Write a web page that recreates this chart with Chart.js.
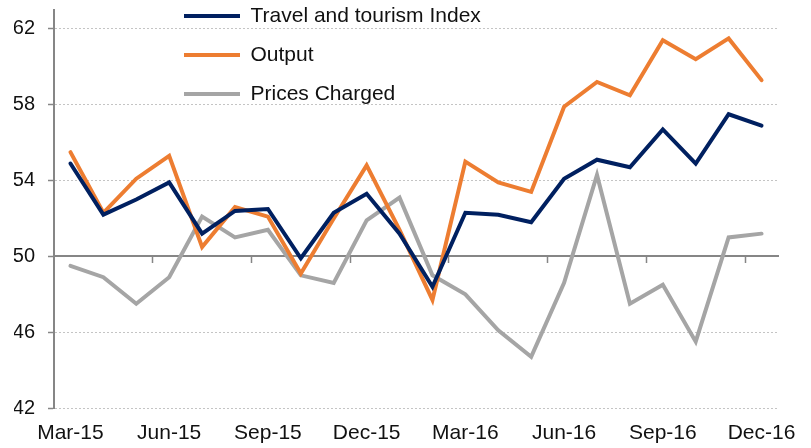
<!DOCTYPE html>
<html lang="en">
<head>
    <meta charset="UTF-8">
    <title>Travel and tourism Index</title>
    <script src="https://cdn.jsdelivr.net/npm/chart.js"></script>
    <style>
        body { margin: 0; background: #fff; }
    </style>
</head>
<body>
    <canvas id="tourismChart" width="811" height="448"></canvas>

    <script>
        const labels = ['Mar-15', 'Apr-15', 'May-15', 'Jun-15', 'Jul-15', 'Aug-15', 'Sep-15', 'Oct-15',
            'Nov-15', 'Dec-15', 'Jan-16', 'Feb-16', 'Mar-16', 'Apr-16', 'May-16', 'Jun-16',
            'Jul-16', 'Aug-16', 'Sep-16', 'Oct-16', 'Nov-16', 'Dec-16'];
        const travelIndex = [54.9, 52.2, 53.0, 53.9, 51.2, 52.4, 52.5, 49.9, 52.3, 53.3, 51.2, 48.4,
            52.3, 52.2, 51.8, 54.1, 55.1, 54.7, 56.7, 54.9, 57.5, 56.9];
        const output = [55.5, 52.3, 54.1, 55.3, 50.5, 52.6, 52.1, 49.1, 52.0, 54.8, 51.4, 47.7,
            55.0, 53.9, 53.4, 57.9, 59.2, 58.5, 61.4, 60.4, 61.5, 59.3];
        const pricesCharged = [49.5, 48.9, 47.5, 48.9, 52.1, 51.0, 51.4, 49.0, 48.6, 51.9, 53.1, 49.0,
            48.0, 46.1, 44.7, 48.6, 54.3, 47.5, 48.5, 45.5, 51.0, 51.2];
        const yTicks = [42, 46, 50, 54, 58, 62];

        Chart.defaults.font.family = 'Arial, "Liberation Sans", sans-serif';
        Chart.defaults.color = '#111';

        // move the legend onto the plot, above the lines
        const legendSpot = {
            id: 'legendSpot',
            afterLayout(chart) {
                const lg = chart.legend;
                lg.left = 166;
                lg.right = 600;
                lg.top = -12.5;
                lg.bottom = 200;
            }
        };

        const ctx = document.getElementById('tourismChart').getContext('2d');
        new Chart(ctx, {
            type: 'line',
            data: {
                labels: labels,
                datasets: [{
                    label: 'Travel and tourism Index',
                    data: travelIndex,
                    borderColor: '#002060',
                    backgroundColor: '#002060',
                    borderWidth: 4,
                    borderCapStyle: 'round',
                    pointRadius: 0,
                    tension: 0
                }, {
                    label: 'Output',
                    data: output,
                    borderColor: '#ED7D31',
                    backgroundColor: '#ED7D31',
                    borderWidth: 4,
                    borderCapStyle: 'round',
                    pointRadius: 0,
                    tension: 0
                }, {
                    label: 'Prices Charged',
                    data: pricesCharged,
                    borderColor: '#A5A5A5',
                    backgroundColor: '#A5A5A5',
                    borderWidth: 4,
                    borderCapStyle: 'round',
                    pointRadius: 0,
                    tension: 0
                }]
            },
            options: {
                responsive: false,
                animation: false,
                layout: { padding: { left: 14, right: 33, top: 10, bottom: 0 } },
                plugins: {
                    legend: {
                        position: 'chartArea',
                        align: 'start',
                        labels: {
                            usePointStyle: true,
                            pointStyle: 'line',
                            pointStyleWidth: 56,
                            padding: 18,
                            color: '#111',
                            font: { size: 21 }
                        }
                    },
                    tooltip: { enabled: false }
                },
                scales: {
                    x: {
                        offset: true,
                        grid: { display: false, drawTicks: false },
                        border: { display: false },
                        ticks: {
                            autoSkip: false,
                            maxRotation: 0,
                            padding: 14.5,
                            font: { size: 21, lineHeight: 1 },
                            callback: (v, i) => (i % 3 === 0 ? labels[i] : '')
                        },
                        afterFit: s => { s.height = 40; }
                    },
                    x2: {
                        type: 'category',
                        position: { y: 50 },
                        offset: true,
                        grid: {
                            offset: true,
                            drawOnChartArea: false,
                            tickLength: 6,
                            tickWidth: 1.5,
                            color: c => (c.index > 0 && c.index % 3 === 0 ? '#868686' : 'rgba(0,0,0,0)')
                        },
                        border: { color: '#868686', width: 2 },
                        ticks: { display: false }
                    },
                    y: {
                        min: 42,
                        max: 63,
                        afterBuildTicks: axis => { axis.ticks = yTicks.map(v => ({ value: v })); },
                        afterFit: s => { s.width = 40; s.paddingTop = 0; },
                        grid: {
                            color: '#c4c4c4',
                            lineWidth: 1,
                            tickLength: 6,
                            tickColor: '#868686',
                            tickWidth: 1.5,
                            tickBorderDash: []
                        },
                        border: { color: '#868686', width: 2, dash: [2, 2] },
                        ticks: { padding: 13, font: { size: 20, lineHeight: 1 } }
                    }
                }
            },
            plugins: [legendSpot]
        });
    </script>
</body>
</html>
